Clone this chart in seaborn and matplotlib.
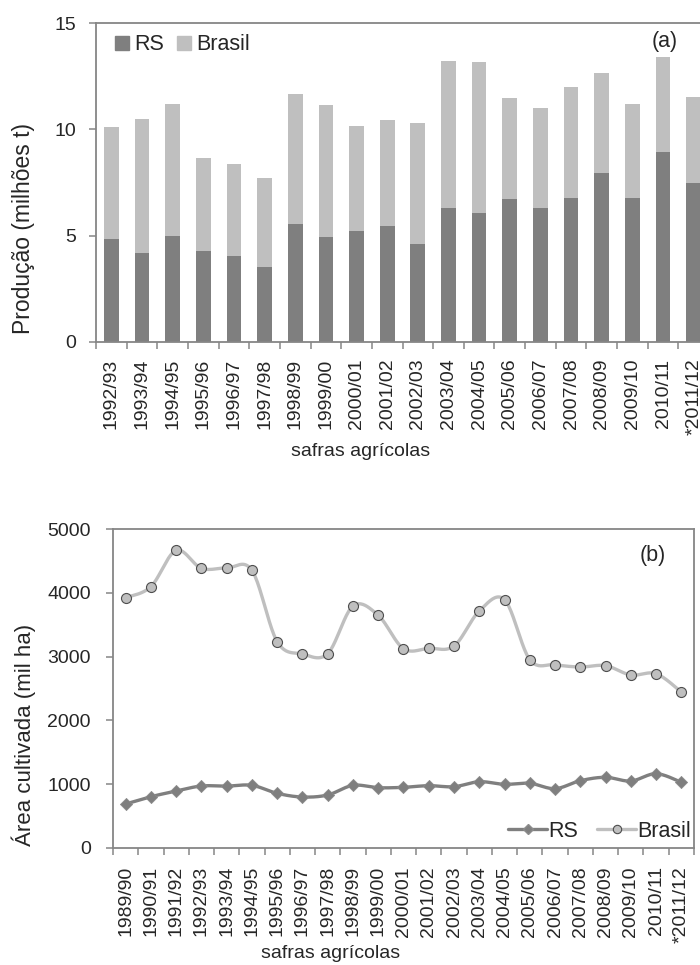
import numpy as np
import pandas as pd
import matplotlib
matplotlib.use("Agg")
import matplotlib.pyplot as plt
import seaborn as sns
from matplotlib.patches import Patch
from matplotlib.lines import Line2D

# ---- data -------------------------------------------------------------
safras_prod = ["1992/93", "1993/94", "1994/95", "1995/96", "1996/97", "1997/98",
               "1998/99", "1999/00", "2000/01", "2001/02", "2002/03", "2003/04",
               "2004/05", "2005/06", "2006/07", "2007/08", "2008/09", "2009/10",
               "2010/11", "*2011/12"]
prod_rs = [4.86, 4.18, 4.98, 4.29, 4.06, 3.54, 5.56, 4.94, 5.23, 5.45,
           4.62, 6.31, 6.08, 6.74, 6.31, 6.78, 7.96, 6.78, 8.92, 7.49]
prod_brasil = [10.09, 10.50, 11.19, 8.65, 8.35, 7.71, 11.64, 11.13, 10.16, 10.44,
               10.31, 13.21, 13.16, 11.47, 11.00, 11.99, 12.63, 11.19, 13.38, 11.52]

safras_area = ["1989/90", "1990/91", "1991/92", "1992/93", "1993/94", "1994/95",
               "1995/96", "1996/97", "1997/98", "1998/99", "1999/00", "2000/01",
               "2001/02", "2002/03", "2003/04", "2004/05", "2005/06", "2006/07",
               "2007/08", "2008/09", "2009/10", "2010/11", "*2011/12"]
area_rs = [690, 804, 893, 972, 970, 982, 857, 799, 831, 982, 945, 951,
           977, 961, 1039, 998, 1014, 930, 1055, 1108, 1050, 1165, 1030]
area_brasil = [3922, 4096, 4666, 4384, 4389, 4352, 3234, 3041, 3046, 3793, 3647, 3124,
               3130, 3166, 3715, 3892, 2952, 2873, 2837, 2858, 2712, 2732, 2445]

# ---- style ------------------------------------------------------------
DARK = "#7F7F7F"
LIGHT = "#BFBFBF"
SPINE = "#868686"
FS = 14

sns.set_theme(style="white")
plt.rcParams["font.family"] = ["Liberation Sans", "DejaVu Sans"]
plt.rcParams["font.size"] = FS

W, H = 700, 965
fig = plt.figure(figsize=(W / 100, H / 100), dpi=100)


def px_axes(left, top, right, bottom):
    return fig.add_axes([left / W, 1 - bottom / H, (right - left) / W, (bottom - top) / H])


def style_axes(ax, n, ypad, xpad):
    for side in ["left", "bottom", "top", "right"]:
        ax.spines[side].set_color(SPINE)
        ax.spines[side].set_linewidth(1.3)
    ax.set_xlim(-0.5, n - 0.5)
    ax.set_xticks(np.arange(-0.5, n, 1.0), minor=True)
    ax.tick_params(axis="x", which="major", length=0, pad=xpad, labelsize=FS,
                   labelrotation=90)
    ax.tick_params(axis="x", which="minor", length=5, width=1.1, color=SPINE,
                   bottom=True)
    ax.tick_params(axis="y", which="major", length=5, width=1.1, color=SPINE,
                   left=True, pad=ypad, labelsize=FS)
    ax.set_xlabel("")
    ax.set_ylabel("")


def smooth_curve(values, n=24):
    """Excel-like smoothed line (Catmull-Rom as cubic Bezier)."""
    y = np.asarray(values, float)
    x = np.arange(len(y), dtype=float)
    pts = np.column_stack([x, y])
    ext = np.vstack([pts[0], pts, pts[-1]])
    t = np.linspace(0, 1, n)[:, None]
    segs = []
    for i in range(len(pts) - 1):
        p0, p1, p2, p3 = ext[i], ext[i + 1], ext[i + 2], ext[i + 3]
        c1 = p1 + (p2 - p0) / 6.0
        c2 = p2 - (p3 - p1) / 6.0
        seg = ((1 - t) ** 3) * p1 + 3 * ((1 - t) ** 2) * t * c1 \
            + 3 * (1 - t) * t ** 2 * c2 + t ** 3 * p2
        segs.append(seg if i == 0 else seg[1:])
    curve = np.vstack(segs)
    return curve[:, 0], curve[:, 1]


# ---- (a) production, stacked bars --------------------------------------
ax1 = px_axes(96, 23, 709, 342)
df_prod = pd.DataFrame({"safra": safras_prod, "RS": prod_rs, "Brasil": prod_brasil})
sns.barplot(data=df_prod, x="safra", y="Brasil", color=LIGHT, saturation=1,
            width=0.48, linewidth=0, ax=ax1)
sns.barplot(data=df_prod, x="safra", y="RS", color=DARK, saturation=1,
            width=0.48, linewidth=0, ax=ax1)
ax1.set_ylim(0, 15)
ax1.set_yticks([0, 5, 10, 15])
style_axes(ax1, len(safras_prod), ypad=9.5, xpad=12)
ax1.set_xticks(range(len(safras_prod)))
ax1.set_xticklabels(safras_prod)
ax1.legend(handles=[Patch(color=DARK, label="RS"), Patch(color=LIGHT, label="Brasil")],
           loc="center left", bbox_to_anchor=(115 / W, 1 - 45 / H),
           bbox_transform=fig.transFigure, ncol=2, frameon=False, fontsize=FS + 1.5,
           handlelength=0.65, handleheight=0.65, handletextpad=0.25,
           columnspacing=0.6, borderpad=0, borderaxespad=0)
fig.text(665 / W, 1 - 42 / H, "(a)", ha="center", va="center", fontsize=FS + 1.5)
fig.text(24 / W, 1 - 228 / H, "Produção (milhões t)", rotation=90,
         ha="center", va="center", fontsize=16.5)
fig.text(361 / W, 1 - 452 / H, "safras agrícolas", ha="center", va="center",
         fontsize=FS)

# ---- (b) cultivated area, smoothed lines --------------------------------
ax2 = px_axes(113, 529, 694, 848)
for values, color, lw in [(area_brasil, LIGHT, 2.4), (area_rs, DARK, 2.4)]:
    cx, cy = smooth_curve(values)
    sns.lineplot(x=cx, y=cy, sort=False, estimator=None, color=color,
                 linewidth=lw, ax=ax2)
idx = np.arange(len(safras_area))
sns.scatterplot(x=idx, y=area_rs, marker="D", s=38, color=DARK,
                edgecolor="#8C8C8C", linewidth=0.6, zorder=3, ax=ax2)
sns.scatterplot(x=idx, y=area_brasil, marker="o", s=52, color=LIGHT,
                edgecolor="#4D4D4D", linewidth=0.8, zorder=3, ax=ax2)
ax2.set_ylim(0, 5000)
ax2.set_yticks(range(0, 5001, 1000))
style_axes(ax2, len(safras_area), ypad=11, xpad=13)
ax2.set_xticks(idx)
ax2.set_xticklabels(safras_area)
leg_handles = [
    Line2D([], [], color=DARK, lw=2.4, marker="D", markersize=5.5,
           markerfacecolor=DARK, markeredgecolor="#8C8C8C", label="RS"),
    Line2D([], [], color=LIGHT, lw=2.4, marker="o", markersize=6,
           markerfacecolor=LIGHT, markeredgecolor="#4D4D4D", markeredgewidth=0.8,
           label="Brasil"),
]
ax2.legend(handles=leg_handles, loc="lower right",
           bbox_to_anchor=(691 / W, 1 - 842 / H), bbox_transform=fig.transFigure,
           ncol=2, frameon=False, fontsize=FS + 1.5, handlelength=1.8,
           handletextpad=0.05, columnspacing=0.9, borderpad=0, borderaxespad=0)
fig.text(653 / W, 1 - 556 / H, "(b)", ha="center", va="center", fontsize=FS + 1.5)
fig.text(24 / W, 1 - 735 / H, "Área cultivada (mil ha)", rotation=90,
         ha="center", va="center", fontsize=16)
fig.text(331 / W, 1 - 953 / H, "safras agrícolas", ha="center", va="center",
         fontsize=FS)

fig.savefig("out.png", dpi=100)
